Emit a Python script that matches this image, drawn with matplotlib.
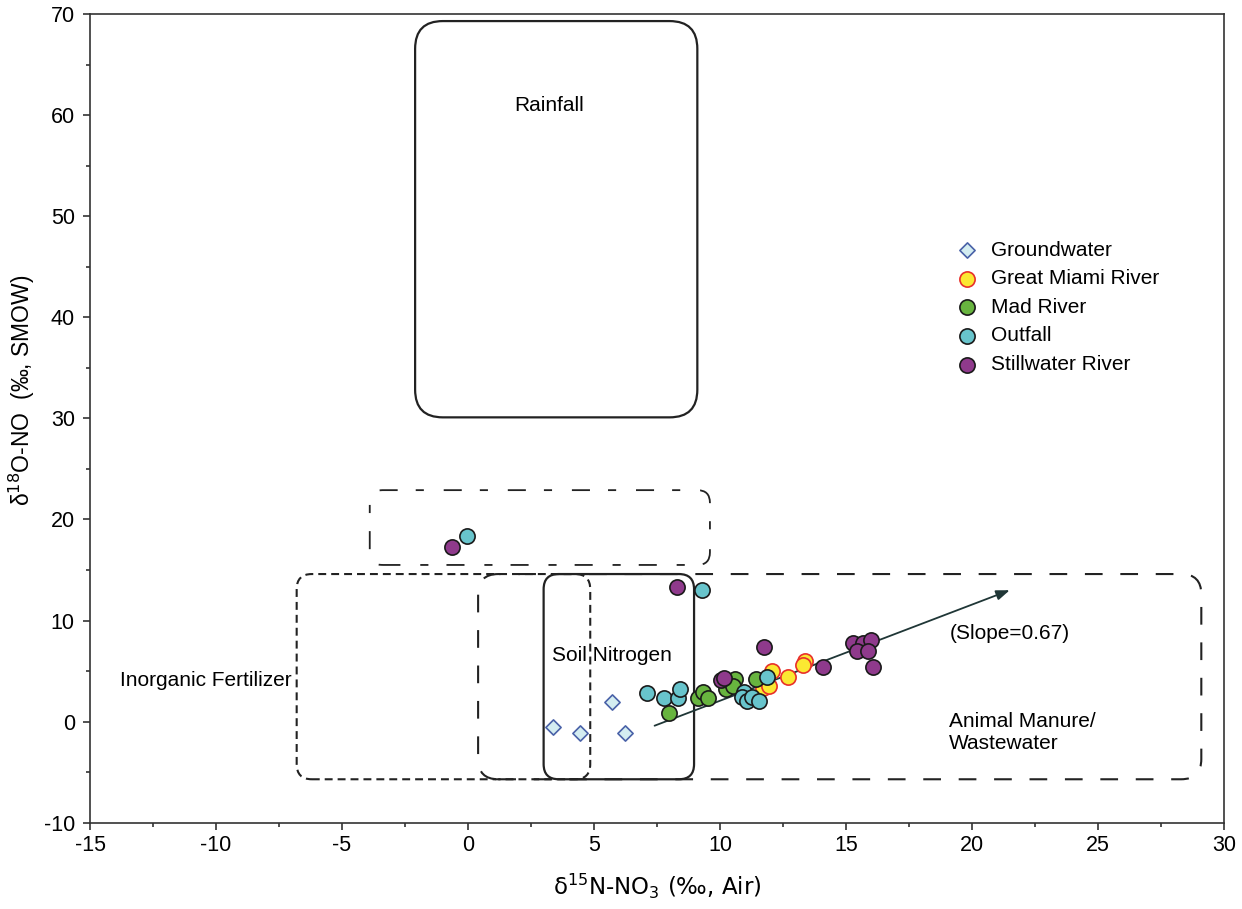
import matplotlib.pyplot as plt
from matplotlib.patches import FancyBboxPatch

plt.rcParams['font.family'] = ['Liberation Sans', 'DejaVu Sans']
plt.rcParams['axes.unicode_minus'] = False

# sample points (d15N, d18O)
gw_x = [3.36, 4.44, 5.73, 6.23]
gw_y = [-0.5, -1.1, 1.9, -1.1]

gmr_x = [12.05, 11.69, 11.96, 12.71, 13.37, 13.28]
gmr_y = [5.0, 3.35, 3.5, 4.38, 6.0, 5.6]

mad_x = [7.99, 9.14, 9.34, 9.51, 10.6, 10.24, 10.53, 11.43]
mad_y = [0.88, 2.3, 2.9, 2.3, 4.2, 3.2, 3.55, 4.2]

out_x = [-0.05, 9.27, 7.09, 7.78, 8.35, 8.41, 10.95, 10.86, 11.06, 11.28, 11.56, 11.88]
out_y = [18.4, 13.0, 2.86, 2.3, 2.37, 3.2, 2.96, 2.46, 2.07, 2.46, 2.07, 4.4]

stw_x = [-0.62, 8.28, 11.76, 10.03, 10.16, 14.07, 15.29, 15.69, 15.98, 15.42, 15.88, 16.06]
stw_y = [17.3, 13.3, 7.4, 4.1, 4.3, 5.37, 7.74, 7.8, 8.07, 7.0, 7.0, 5.37]

# source fields: x0, y0, x1, y1
rainfall_box = [-2.1, 30.1, 9.1, 69.3]
atmos_box = [-3.9, 15.5, 9.6, 22.9]
fert_box = [-6.8, -5.7, 4.85, 14.6]
manure_box = [0.4, -5.7, 29.1, 14.6]
soil_box = [3.0, -5.7, 8.97, 14.6]

# trend arrow
arrow_start = [7.3, -0.5]
arrow_end = [21.6, 13.1]

fig = plt.figure(figsize=(12.42, 9.09), dpi=100)
ax = fig.add_axes([0.0725, 0.0949, 0.913, 0.8897])
ax.set_xlim(-15, 30)
ax.set_ylim(-10, 70)

# px per x-unit / px per y-unit so rounded corners stay circular
aspect = 25.2 / 10.11


def field(box, r, ls, lw=1.5):
    x0, y0, x1, y1 = box
    p = FancyBboxPatch((x0, y0), x1 - x0, y1 - y0,
                       boxstyle=f"round,pad=0,rounding_size={r}",
                       mutation_aspect=aspect, fill=False,
                       edgecolor='#222222', linewidth=lw, linestyle=ls, zorder=1)
    ax.add_patch(p)


field(rainfall_box, 1.1, '-', 1.6)
field(atmos_box, 0.5, (0, (10, 11, 4.5, 10)), 1.3)
field(fert_box, 0.6, (0, (3.8, 2.4)), 1.5)
field(manure_box, 0.8, (0, (8.5, 8.5)), 1.5)
field(soil_box, 0.6, '-', 1.6)

ax.annotate('', xy=arrow_end, xytext=arrow_start,
            arrowprops=dict(arrowstyle='-|>,head_length=0.8,head_width=0.3',
                            color='#1f3636', lw=1.3), zorder=2)

fs = 15
ax.text(3.2, 60.9, 'Rainfall', fontsize=fs, ha='center', va='center')
ax.text(-10.4, 4.1, 'Inorganic Fertilizer', fontsize=fs, ha='center', va='center')
ax.text(5.7, 6.5, 'Soil Nitrogen', fontsize=fs, ha='center', va='center')
ax.text(19.1, 8.7, '(Slope=0.67)', fontsize=fs, ha='left', va='center')
ax.text(19.1, -1.1, 'Animal Manure/\nWastewater', fontsize=fs, ha='left', va='center',
        linespacing=1.2)

ax.scatter(gw_x, gw_y, marker='D', s=60, facecolor='#d4edf1', edgecolor='#4a62a8',
           linewidth=1.2, zorder=3, label='Groundwater')
ax.scatter(gmr_x, gmr_y, marker='o', s=120, facecolor='#fbe832', edgecolor='#e8302a',
           linewidth=1.2, zorder=3, label='Great Miami River')
ax.scatter(mad_x, mad_y, marker='o', s=120, facecolor='#68b43f', edgecolor='#1a1a1a',
           linewidth=1.2, zorder=3, label='Mad River')
ax.scatter(out_x, out_y, marker='o', s=120, facecolor='#68c4cc', edgecolor='#1a1a1a',
           linewidth=1.2, zorder=3, label='Outfall')
ax.scatter(stw_x, stw_y, marker='o', s=120, facecolor='#8f3a8c', edgecolor='#1a1a1a',
           linewidth=1.2, zorder=4, label='Stillwater River')

ax.legend(loc='upper left', bbox_to_anchor=(0.755, 0.73), frameon=False,
          fontsize=fs, handlelength=1.2, handletextpad=0.55, labelspacing=0.46,
          borderaxespad=0, markerscale=1.0)

ax.set_xticks(range(-15, 31, 5))
ax.set_xticks([x + 2.5 for x in range(-15, 30, 5)], minor=True)
ax.set_yticks(range(-10, 71, 10))
ax.set_yticks([y + 5 for y in range(-10, 70, 10)], minor=True)
ax.tick_params(which='both', direction='out', color='#333333', labelsize=15.5, width=1.2)
ax.tick_params(which='major', length=5)
ax.tick_params(which='minor', length=3)
ax.tick_params(axis='y', which='major', pad=6)
for s in ax.spines.values():
    s.set_color('#333333')
    s.set_linewidth(1.2)

ax.set_xlabel('δ$^{15}$N-NO$_3$ (‰, Air)', fontsize=16.5, family='DejaVu Sans', labelpad=12)
ax.set_ylabel('δ$^{18}$O-NO  (‰, SMOW)', fontsize=16.5)
ax.yaxis.set_label_coords(-0.047, 0.535)

fig.savefig('out.png', dpi=100)
